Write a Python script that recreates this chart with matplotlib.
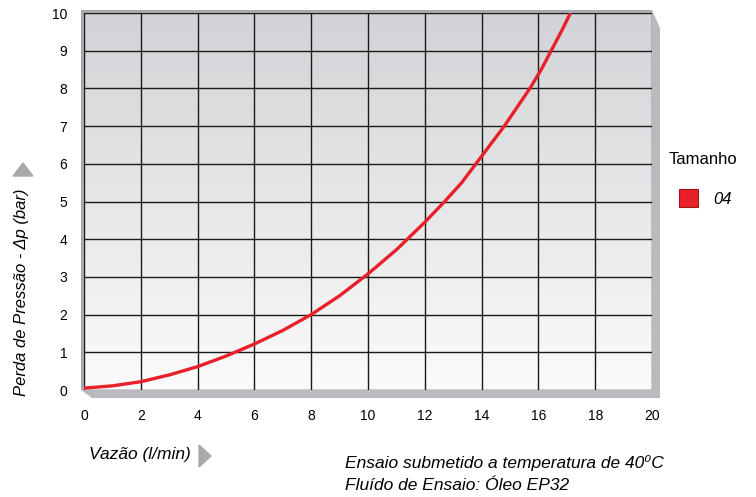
import matplotlib.pyplot as plt
import matplotlib.patches as mpatches
import numpy as np

plt.rcParams['font.family'] = ['Liberation Sans', 'DejaVu Sans']

# Pressure drop curve
flow = [0, 1, 2, 3, 4, 5, 6, 7, 8, 9, 10, 11, 12, 12.7, 13.3, 13.8, 14.3, 14.8,
        15.25, 15.7, 16.1, 16.45, 16.8, 17.13]
dp = [0.05, 0.11, 0.22, 0.4, 0.62, 0.9, 1.22, 1.58, 2.0, 2.5, 3.08, 3.72, 4.45, 5.0,
      5.5, 6.0, 6.5, 7.0, 7.5, 8.0, 8.5, 9.0, 9.5, 10.0]

x_ticks = [0, 2, 4, 6, 8, 10, 12, 14, 16, 18, 20]
y_ticks = [0, 1, 2, 3, 4, 5, 6, 7, 8, 9, 10]

red = '#e8202a'

fig = plt.figure(figsize=(7.56, 4.97), dpi=100)
ax = fig.add_axes([84 / 756, 1 - 390 / 497, 568 / 756, 377 / 497])
ax.set_xlim(0, 20)
ax.set_ylim(0, 10)

# grey gradient background
grad = np.linspace(0, 1, 256).reshape(-1, 1)
ax.imshow(grad, extent=[0, 20, 0, 10], aspect='auto', origin='lower',
          cmap=plt.matplotlib.colors.LinearSegmentedColormap.from_list(
              'bg', ['#fbfbfb', '#d2d3d6']), zorder=0)

ax.set_xticks(x_ticks)
ax.set_yticks(y_ticks)
ax.grid(True, color='#1a1a1a', linewidth=1.0, zorder=1)
ax.tick_params(length=0, labelsize=10)
ax.tick_params(axis='y', pad=12)
ax.tick_params(axis='x', pad=14)
for s in ax.spines.values():
    s.set_visible(False)

ax.plot(flow, dp, color=red, linewidth=2.4, zorder=3, solid_capstyle='butt',
        solid_joinstyle='round')

# 3D-ish frame: borders and shadow
px = 20 / 568
py = 10 / 377
frame = '#a7a8ab'
shadow = '#b9babd'
ax.add_patch(mpatches.Rectangle((-3 * px, 0), 3 * px, 10 + 3 * py, color=frame,
                                clip_on=False, zorder=4, lw=0))
ax.add_patch(mpatches.Rectangle((-3 * px, 10), 20 + 3 * px, 3 * py, color=frame,
                                clip_on=False, zorder=4, lw=0))
ax.add_patch(mpatches.Polygon([(20, 10 + 3 * py), (20 + 8 * px, 10 - 15 * py),
                               (20 + 8 * px, -8 * py), (20, -8 * py)],
                              closed=True, color=shadow, clip_on=False, zorder=4, lw=0))
ax.add_patch(mpatches.Polygon([(-3 * px, 0), (20, 0), (20, -8 * py),
                               (8 * px, -8 * py)],
                              closed=True, color=shadow, clip_on=False, zorder=4, lw=0))

# axis labels with arrows
fig.text(22 / 756, 1 - 292 / 497, 'Perda de Pressão - \u0394p (bar)', rotation=90,
         fontsize=12, style='italic', ha='center', va='center')
fig.patches.append(mpatches.Polygon([(13 / 756, 1 - 176 / 497), (33 / 756, 1 - 176 / 497),
                                     (23 / 756, 1 - 163 / 497)], closed=True,
                                    color='#a8a9ab', transform=fig.transFigure))
fig.text(89 / 756, 1 - 455 / 497, 'Vazão (l/min)', fontsize=12.5, style='italic',
         ha='left', va='center')
fig.patches.append(mpatches.Polygon([(199 / 756, 1 - 445 / 497), (199 / 756, 1 - 467 / 497),
                                     (211 / 756, 1 - 456 / 497)], closed=True,
                                    color='#a8a9ab', transform=fig.transFigure))

# legend
fig.text(669 / 756, 1 - 160 / 497, 'Tamanho', fontsize=12, ha='left', va='center')
fig.patches.append(mpatches.FancyBboxPatch((679 / 756, 1 - 207 / 497), 19 / 756, 18 / 497,
                                           boxstyle='square,pad=0', facecolor=red,
                                           edgecolor='#9a1418', linewidth=0.8,
                                           transform=fig.transFigure))
fig.text(713 / 756, 1 - 199 / 497, '04', fontsize=12, style='italic', ha='left', va='center')

# notes
fig.text(345 / 756, 1 - 463 / 497, 'Ensaio submetido a temperatura de 40\u2070C',
         fontsize=12.5, style='italic', ha='left', va='center')
fig.text(345 / 756, 1 - 486 / 497, 'Fluído de Ensaio: Óleo EP32',
         fontsize=12.5, style='italic', ha='left', va='center')

fig.savefig('out.png', dpi=100)
